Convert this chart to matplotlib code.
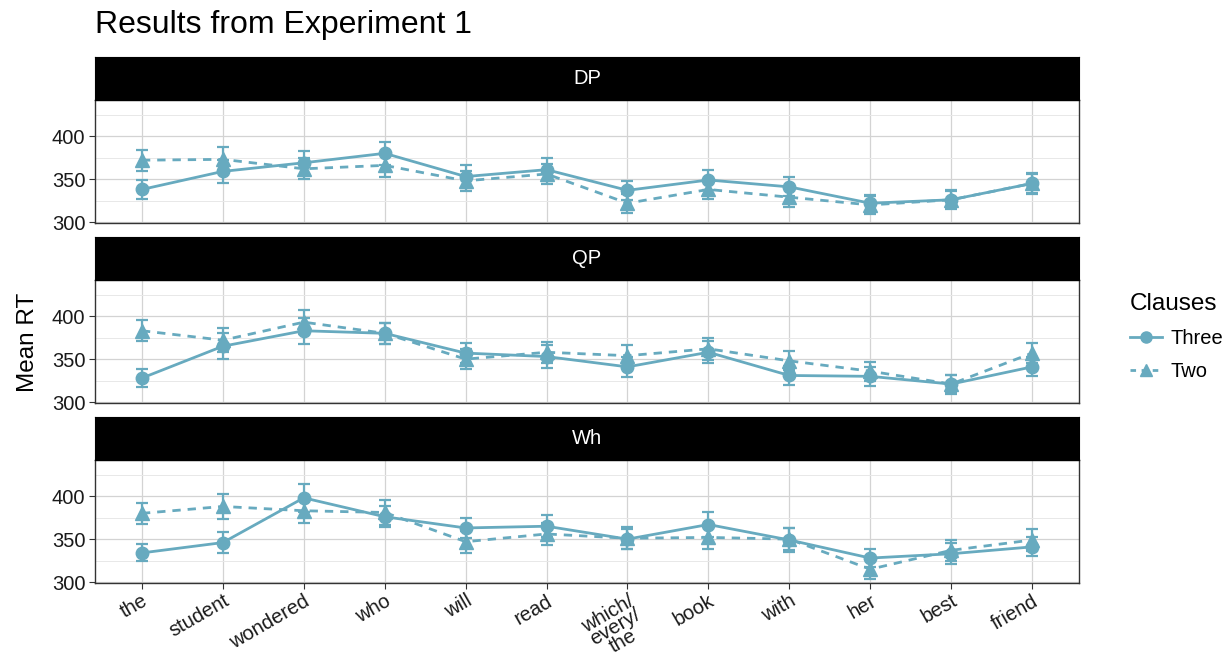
import matplotlib
matplotlib.use("Agg")
import matplotlib.pyplot as plt
from matplotlib.lines import Line2D
import numpy as np

plt.rcParams['font.family'] = ['Liberation Sans', 'DejaVu Sans']

words = ["the", "student", "wondered", "who", "will", "read",
         "which/\nevery/\nthe", "book", "with", "her", "best", "friend"]
panels = ["DP", "QP", "Wh"]

# mean RT per word, per clause condition
dp_three = [338, 359, 369, 380, 353, 361, 337, 349, 341, 322, 326, 345]
dp_two = [372, 373, 362, 366, 348, 356, 322, 338, 329, 320, 326, 345]
qp_three = [328, 365, 383, 380, 357, 353, 341, 358, 331, 330, 321, 341]
qp_two = [383, 372, 393, 380, 350, 358, 354, 362, 348, 336, 321, 357]
wh_three = [334, 346, 398, 376, 363, 365, 350, 367, 349, 328, 333, 341]
wh_two = [380, 388, 383, 381, 347, 356, 351, 352, 350, 315, 337, 349]

# error bar half-widths
dp_three_err = [11, 13, 14, 13, 13, 13, 11, 12, 11, 10, 10, 12]
dp_two_err = [12, 14, 12, 13, 12, 12, 11, 11, 11, 10, 11, 11]
qp_three_err = [10, 15, 15, 12, 12, 13, 12, 13, 11, 11, 11, 11]
qp_two_err = [12, 14, 14, 12, 12, 12, 12, 13, 11, 11, 10, 12]
wh_three_err = [10, 12, 16, 12, 12, 13, 12, 14, 14, 10, 12, 11]
wh_two_err = [12, 15, 14, 15, 13, 13, 13, 14, 13, 11, 12, 13]

three = [dp_three, qp_three, wh_three]
two = [dp_two, qp_two, wh_two]
three_err = [dp_three_err, qp_three_err, wh_three_err]
two_err = [dp_two_err, qp_two_err, wh_two_err]

col = "#67AABF"
W, H = 1222, 662
fig = plt.figure(figsize=(W / 100, H / 100), dpi=100)

left = 95 / W
width = (1079 - 95) / W
plot_tops = [100, 280, 460]
plot_h = 123
strip_h = 43
x = np.arange(1, len(words) + 1)

for i, name in enumerate(panels):
    top = plot_tops[i]
    ax = fig.add_axes([left, 1 - (top + plot_h) / H, width, plot_h / H])
    st = fig.add_axes([left, 1 - top / H, width, strip_h / H])
    st.set_facecolor("black")
    st.set_xticks([])
    st.set_yticks([])
    for s in st.spines.values():
        s.set_color("black")
    st.text(0.5, 0.5, name, color="white", fontsize=14.5, ha="center", va="center",
            transform=st.transAxes)

    ax.errorbar(x, three[i], yerr=three_err[i], color=col, marker="o", markersize=9,
                linewidth=2, linestyle="-", capsize=4, elinewidth=1.6, capthick=1.6)
    ax.errorbar(x, two[i], yerr=two_err[i], color=col, marker="^", markersize=10,
                linewidth=2, linestyle=(0, (3, 2.5)), capsize=4, elinewidth=1.6,
                capthick=1.6)

    ax.set_xlim(0.42, 12.58)
    ax.set_ylim(299, 442)
    ax.set_yticks([300, 350, 400])
    ax.set_yticks([325, 375, 425], minor=True)
    ax.set_xticks(x)
    ax.grid(True, which="major", color="#D3D3D3", linewidth=0.9)
    ax.grid(True, which="minor", axis="y", color="#E8E8E8", linewidth=0.7)
    ax.set_axisbelow(True)
    ax.tick_params(axis="y", which="minor", length=0)
    ax.tick_params(axis="both", which="major", length=4, color="#333333",
                   labelsize=14.5, labelcolor="#1a1a1a", pad=3)
    for s in ax.spines.values():
        s.set_color("#333333")
        s.set_linewidth(1)
    if i < 2:
        ax.tick_params(axis="x", length=0, labelbottom=False)
    else:
        ax.tick_params(axis="x", pad=2)
        ax.set_xticklabels(words, rotation=30, ha="right", rotation_mode="anchor",
                           multialignment="center", linespacing=0.78)

fig.text(28 / W, 1 - 342 / H, "Mean RT", rotation=90, fontsize=17.5,
         ha="center", va="center")
fig.text(95 / W, 1 - 25 / H, "Results from Experiment 1", fontsize=23,
         ha="left", va="center")

handles = [
    Line2D([], [], color=col, marker="o", markersize=8, linewidth=2, linestyle="-"),
    Line2D([], [], color=col, marker="^", markersize=9, linewidth=2,
           linestyle=(0, (2, 2))),
]
leg = fig.legend(handles, ["Three", "Two"], title="Clauses", loc="center left",
                 bbox_to_anchor=(1112 / W, 1 - 337 / H), frameon=False,
                 fontsize=14.5, title_fontsize=17.5, handlelength=1.6,
                 handletextpad=0.4, labelspacing=0.7)
leg._legend_box.align = "left"

fig.savefig("out.png", dpi=100)
